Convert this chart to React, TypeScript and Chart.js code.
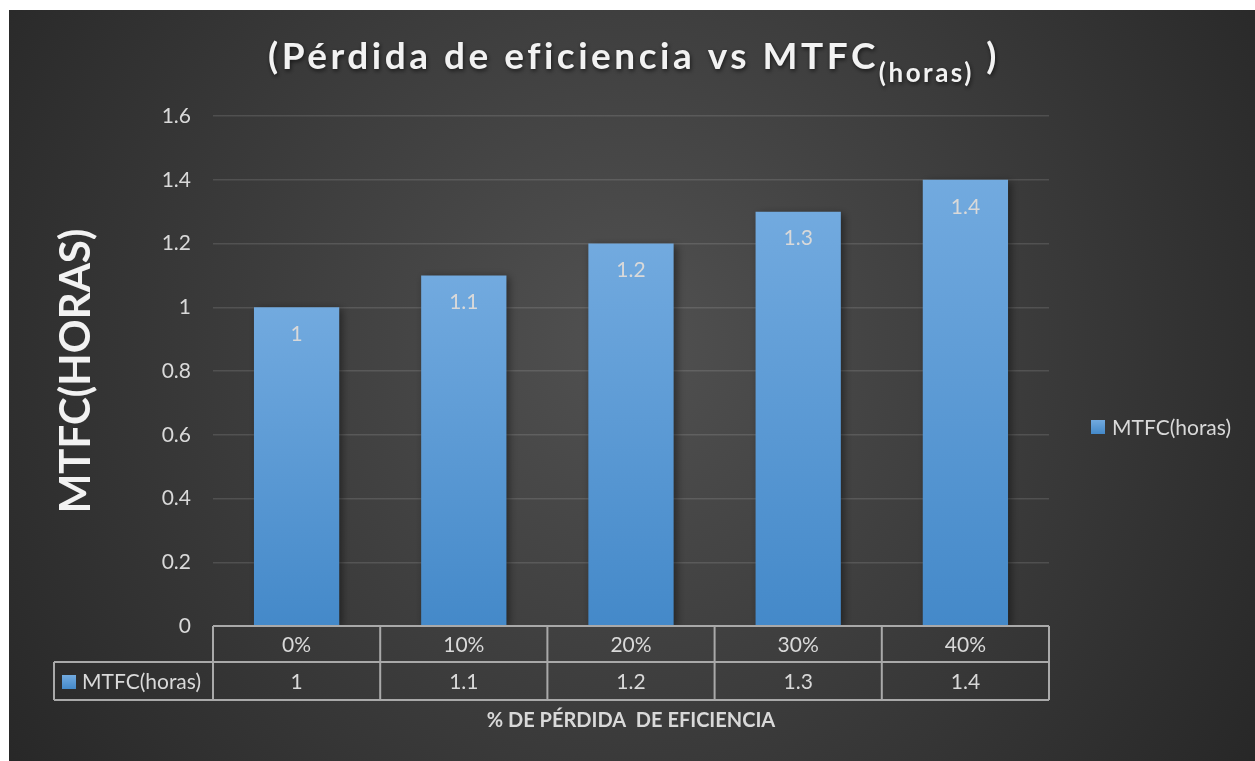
import React, { useEffect, useRef } from "react";
import { Chart, registerables } from "chart.js";

Chart.register(...registerables);

const categories = ["0%", "10%", "20%", "30%", "40%"];
const seriesName = "MTFC(horas)";
const seriesValues = [1, 1.1, 1.2, 1.3, 1.4];
const titleMain = "(Pérdida de eficiencia vs MTFC";
const titleSub = "(horas)";
const titleEnd = " )";
const yTitle = "MTFC(HORAS)";
const xTitle = "% DE PÉRDIDA  DE EFICIENCIA";

const FONT = "Lato";
const TEXT = "#d9d9d9";
const BAR_TOP = "#72aadf";
const BAR_BOTTOM = "#4489c9";
const LINE = "#a9a9a9";

const W = 1246;
const H = 751;

const fmt = (v: number) => String(Math.round(v * 10) / 10);

const bgPlugin = {
  id: "bg",
  beforeDraw(chart: any) {
    const ctx = chart.ctx;
    ctx.save();
    const g = ctx.createRadialGradient(620, 330, 0, 620, 330, 780);
    g.addColorStop(0, "#515151");
    g.addColorStop(1, "#262626");
    ctx.fillStyle = g;
    ctx.fillRect(0, 0, chart.width, chart.height);
    ctx.restore();
  },
};

const shadowPlugin = {
  id: "barShadow",
  beforeDatasetsDraw(chart: any) {
    const ctx = chart.ctx;
    ctx.save();
    ctx.shadowColor = "rgba(0,0,0,0.45)";
    ctx.shadowBlur = 8;
    ctx.shadowOffsetX = 3;
    ctx.shadowOffsetY = 2;
  },
  afterDatasetsDraw(chart: any) {
    chart.ctx.restore();
  },
};

const decorPlugin = {
  id: "decor",
  afterDraw(chart: any) {
    const ctx = chart.ctx;
    const area = chart.chartArea;
    const xs = chart.scales.x;
    const meta = chart.getDatasetMeta(0);
    ctx.save();

    // data labels
    ctx.fillStyle = TEXT;
    ctx.font = `21px ${FONT}`;
    ctx.textAlign = "center";
    ctx.textBaseline = "middle";
    meta.data.forEach((bar: any, i: number) => {
      ctx.fillText(fmt(seriesValues[i]), bar.x, bar.y + 27);
    });

    // data table
    const n = categories.length;
    const cw = (area.right - area.left) / n;
    const r0 = area.bottom;
    const r1 = area.bottom + 36;
    const r2 = area.bottom + 74;
    const leftX = 45;
    ctx.strokeStyle = LINE;
    ctx.lineWidth = 2;
    ctx.beginPath();
    ctx.moveTo(area.left, r0);
    ctx.lineTo(area.right, r0);
    ctx.moveTo(leftX, r1);
    ctx.lineTo(area.right, r1);
    ctx.moveTo(leftX, r2);
    ctx.lineTo(area.right, r2);
    ctx.moveTo(leftX, r1);
    ctx.lineTo(leftX, r2);
    for (let i = 0; i <= n; i++) {
      const x = area.left + i * cw;
      ctx.moveTo(x, r0);
      ctx.lineTo(x, r2);
    }
    ctx.stroke();

    ctx.fillStyle = TEXT;
    ctx.font = `21px ${FONT}`;
    categories.forEach((c, i) => {
      const x = xs.getPixelForValue(i);
      ctx.fillText(c, x, (r0 + r1) / 2 + 1);
      ctx.fillText(fmt(seriesValues[i]), x, (r1 + r2) / 2 + 1);
    });
    // legend key in table
    const g1 = ctx.createLinearGradient(0, r1 + 13, 0, r1 + 27);
    g1.addColorStop(0, BAR_TOP);
    g1.addColorStop(1, BAR_BOTTOM);
    ctx.fillStyle = g1;
    ctx.fillRect(53, r1 + 13, 14, 14);
    ctx.fillStyle = TEXT;
    ctx.textAlign = "left";
    ctx.fillText(seriesName, 73, (r1 + r2) / 2 + 1);

    // right legend
    const g2 = ctx.createLinearGradient(0, 410, 0, 424);
    g2.addColorStop(0, BAR_TOP);
    g2.addColorStop(1, BAR_BOTTOM);
    ctx.fillStyle = g2;
    ctx.fillRect(1082, 410, 14, 14);
    ctx.fillStyle = TEXT;
    ctx.fillText(seriesName, 1103, 418);

    // x title
    ctx.font = `bold 20px ${FONT}`;
    ctx.textAlign = "center";
    ctx.fillStyle = TEXT;
    ctx.fillText(xTitle, (area.left + area.right) / 2, 711);

    // chart title
    ctx.shadowColor = "rgba(0,0,0,0.6)";
    ctx.shadowBlur = 4;
    ctx.shadowOffsetX = 1;
    ctx.shadowOffsetY = 2;
    ctx.fillStyle = "#f2f2f2";
    ctx.textAlign = "left";
    ctx.textBaseline = "alphabetic";
    const mainFont = `bold 37px ${FONT}`;
    const subFont = `bold 26px ${FONT}`;
    ctx.font = mainFont;
    (ctx as any).letterSpacing = "3.5px";
    const w1 = ctx.measureText(titleMain).width;
    const w3 = ctx.measureText(titleEnd).width;
    ctx.font = subFont;
    (ctx as any).letterSpacing = "2.5px";
    const w2 = ctx.measureText(titleSub).width;
    let x = 625 - (w1 + w2 + w3) / 2;
    ctx.font = mainFont;
    (ctx as any).letterSpacing = "3.5px";
    ctx.fillText(titleMain, x, 59);
    x += w1;
    ctx.font = subFont;
    (ctx as any).letterSpacing = "2.5px";
    ctx.fillText(titleSub, x, 72);
    x += w2;
    ctx.font = mainFont;
    (ctx as any).letterSpacing = "3.5px";
    ctx.fillText(titleEnd, x, 59);
    ctx.restore();
  },
};

export default function App() {
  const ref = useRef<HTMLCanvasElement | null>(null);
  useEffect(() => {
    if (!ref.current) return;
    const chart = new Chart(ref.current, {
      type: "bar",
      data: {
        labels: categories,
        datasets: [
          {
            label: seriesName,
            data: seriesValues,
            barPercentage: 0.51,
            categoryPercentage: 1,
            backgroundColor: (c: any) => {
              const ch = c.chart;
              if (!ch.chartArea || c.type !== "data") return BAR_TOP;
              const ys = ch.scales.y;
              const top = ys.getPixelForValue(c.raw);
              const bottom = ys.getPixelForValue(0);
              const g = ch.ctx.createLinearGradient(0, top, 0, bottom);
              g.addColorStop(0, BAR_TOP);
              g.addColorStop(1, BAR_BOTTOM);
              return g;
            },
          },
        ],
      },
      options: {
        animation: false,
        responsive: false,
        maintainAspectRatio: false,
        layout: { padding: { top: 106, right: 206, left: 0, bottom: 0 } },
        plugins: {
          legend: { display: false },
          title: { display: false },
          tooltip: { enabled: false },
        },
        scales: {
          x: {
            grid: { display: false },
            border: { display: false },
            ticks: { display: false },
            afterFit: (s: any) => {
              s.height = 135;
            },
          },
          y: {
            min: 0,
            max: 1.6,
            ticks: {
              stepSize: 0.2,
              color: TEXT,
              font: { family: FONT, size: 21 },
              padding: 22,
              callback: (v: any) => fmt(Number(v)),
            },
            grid: {
              color: "rgba(255,255,255,0.12)",
              lineWidth: 1.5,
              drawTicks: false,
            },
            border: { display: false },
            title: {
              display: true,
              text: yTitle,
              color: "#f2f2f2",
              font: { family: FONT, size: 42, weight: "bold" },
              padding: { top: 42, bottom: 0 },
            },
            afterFit: (s: any) => {
              s.width = 204;
            },
          },
        },
      },
      plugins: [bgPlugin, shadowPlugin, decorPlugin],
    });
    return () => chart.destroy();
  }, []);
  return (
    <div style={{ position: "absolute", left: 9, top: 10, width: W, height: H }}>
      <canvas ref={ref} width={W} height={H} style={{ width: W, height: H, display: "block" }} />
    </div>
  );
}
